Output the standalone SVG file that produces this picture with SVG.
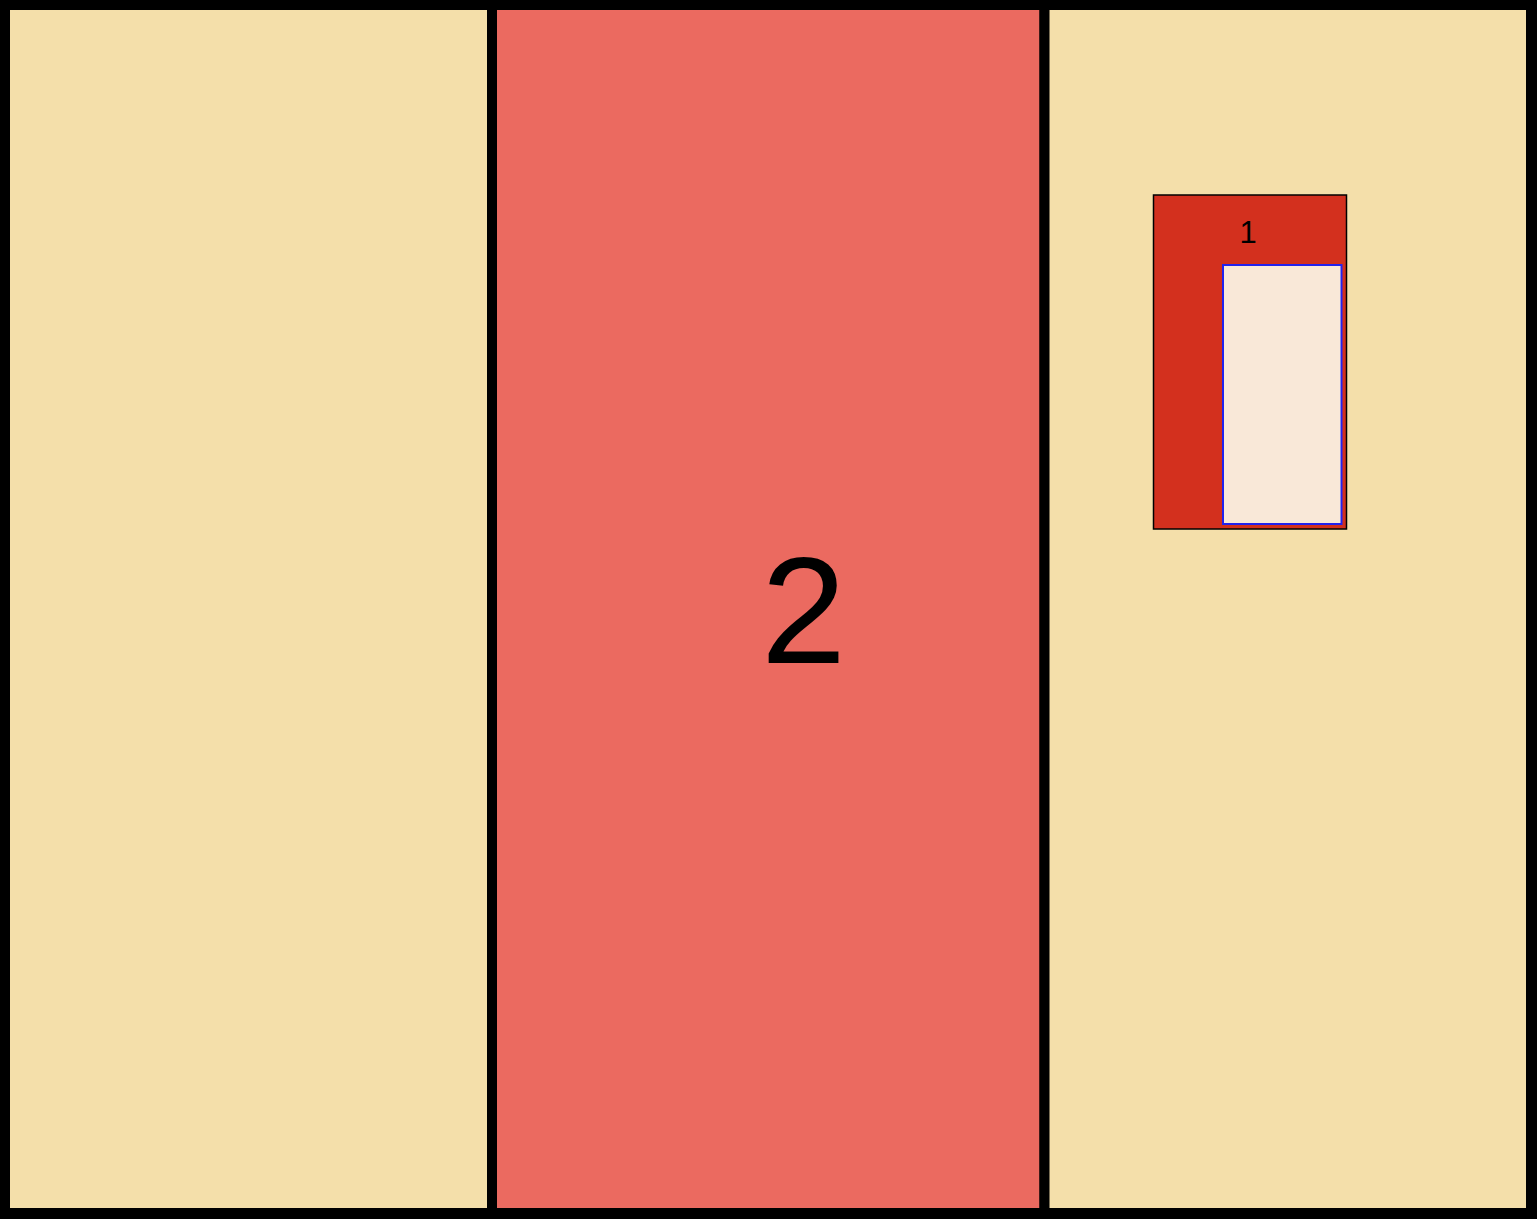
<svg xmlns="http://www.w3.org/2000/svg" width="1537" height="1219" viewBox="0 0 1537 1219">
<style>
.panel{stroke:#000;stroke-width:10}
.lbl{font-family:"Liberation Sans",Arial,sans-serif;fill:#000;text-anchor:middle}
</style>
<rect width="1537" height="1219" fill="#000"/>
<g id="panel-left"><rect class="panel" x="5" y="5" width="487" height="1208" fill="#f4dfaa"/></g>
<g id="panel-middle"><rect class="panel" x="492" y="5" width="552.5" height="1208" fill="#eb6a60"/>
<text class="lbl" x="803.5" y="663" font-size="153">2</text></g>
<g id="panel-right"><rect class="panel" x="1044.5" y="5" width="486.5" height="1208" fill="#f4dfaa"/></g>
<g id="node-1"><rect x="1153.5" y="195" width="193" height="334" fill="#d3301e" stroke="#000" stroke-width="1.5"/>
<text class="lbl" x="1248" y="243" font-size="31">1</text>
<rect x="1223" y="265" width="118.5" height="259" fill="#f9e8d8" stroke="#2222ee" stroke-width="2"/></g>
<g id="connectors"></g>
</svg>
